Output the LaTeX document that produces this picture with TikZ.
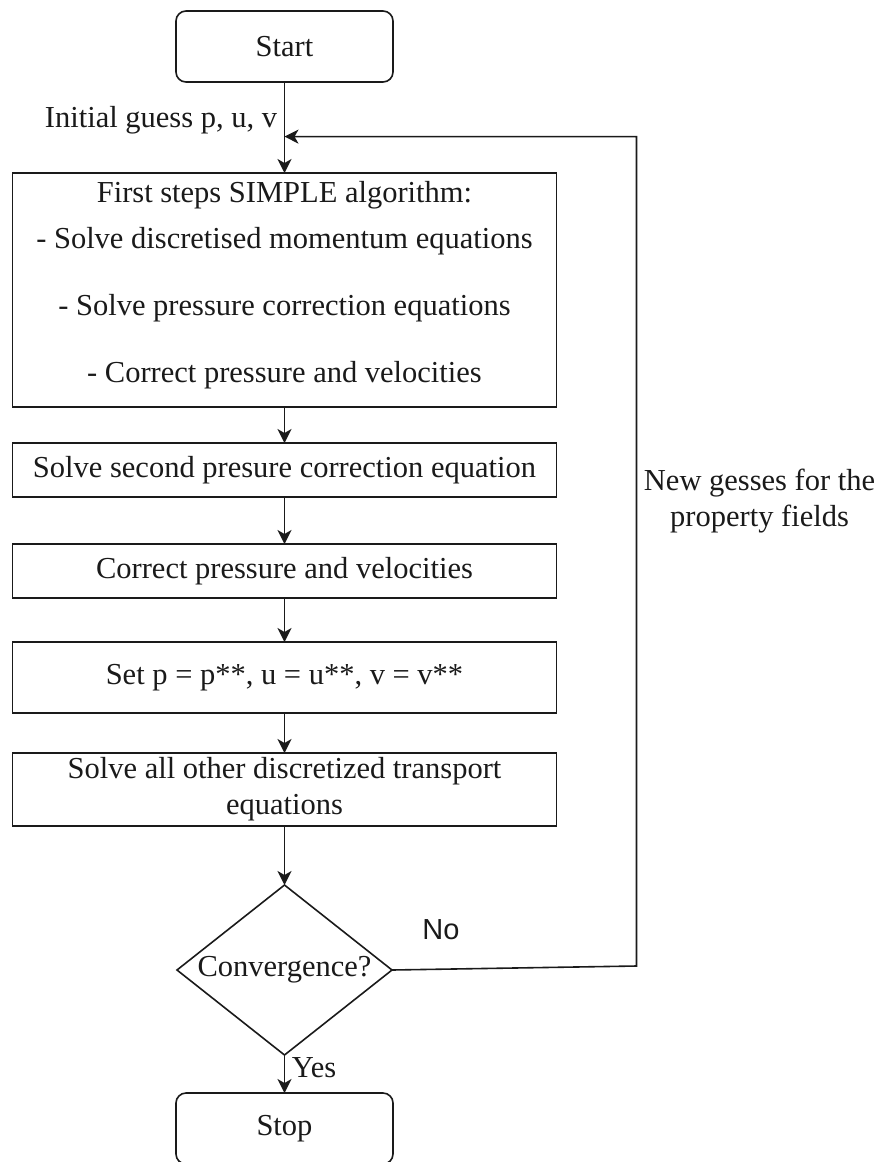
\documentclass[tikz,border=0pt]{standalone}
\usepackage{fontspec}
\setmainfont{Liberation Serif}
\newfontfamily\arialfont{Liberation Sans}
\usetikzlibrary{arrows.meta,positioning,calc,shapes.geometric}
\definecolor{ink}{HTML}{1A1A1A}
\tikzset{
  every node/.style={font=\fontsize{15.25pt}{18pt}\selectfont, text=ink},
  box/.style={draw=ink, line width=0.8pt, minimum width=272pt, align=center,
              outer sep=0pt, inner sep=1pt},
  term/.style={box, rounded corners=5pt, minimum width=108.5pt, minimum height=35.5pt},
  dec/.style={draw=ink, line width=0.8pt, diamond, aspect=1.265, inner sep=0pt,
              minimum width=107.5pt, minimum height=85pt, outer sep=0pt},
  arr/.style={-{Stealth[length=7pt, width=7pt, inset=2pt]}, line width=0.8pt, draw=ink},
  lbl/.style={text=ink, align=center},
  nolbl/.style={font=\arialfont\fontsize{14.5pt}{17pt}\selectfont, text=ink},
}

\begin{document}
\begin{tikzpicture}

\useasboundingbox (0,0) rectangle (444pt,-581pt);

\node[term] (start) at (142.25pt,-23.25pt) {Start};
\node[box, minimum height=117pt, below=45.5pt of start] (simple) {First steps SIMPLE algorithm:\\[5pt]- Solve discretised momentum equations\\[15.5pt]- Solve pressure correction equations\\[15.5pt]- Correct pressure and velocities\\[-10pt]};
\node[box, minimum height=27pt, below=18pt of simple] (second) {Solve second presure correction equation};
\node[box, minimum height=27pt, below=23.5pt of second] (corr) {Correct pressure and velocities};
\node[box, minimum height=35.5pt, below=22pt of corr] (setp) {Set p = p**, u = u**, v = v**};
\node[box, minimum height=36.5pt, below=20pt of setp] (other) {Solve all other discretized transport\\equations};
\node[dec, below=29.5pt of other] (conv) {Convergence?};
\node[term, below=19pt of conv] (stop) {Stop};

\coordinate (entry) at ($(start.south)!0.6!(simple.north)$);
\coordinate (loopbot) at ($(simple.east |- conv.east)+(40pt,2pt)$);

\draw[arr] (start) -- node[lbl, left, pos=0.42]{Initial guess p, u, v} (simple);
\draw[arr] (simple) -- (second);
\draw[arr] (second) -- (corr);
\draw[arr] (corr) -- (setp);
\draw[arr] (setp) -- (other);
\draw[arr] (other) -- (conv);
\draw[arr] (conv) -- node[lbl, right, pos=0.32]{Yes} (stop);
\draw[arr] (conv.east) -- node[nolbl, above=11pt, pos=0.2]{No} (loopbot)
  |- node[lbl, right, pos=0.28]{New gesses for the\\property fields} (entry);

\end{tikzpicture}
\end{document}
